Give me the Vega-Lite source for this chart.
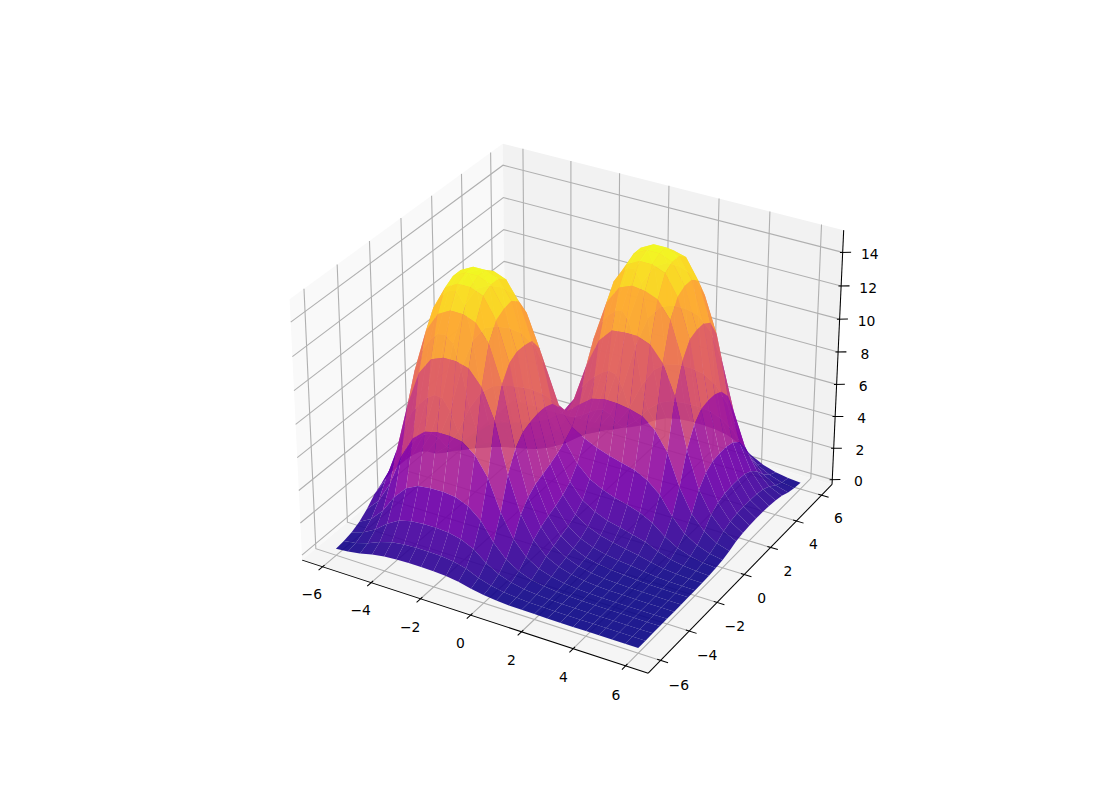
{
"$schema":"https://vega.github.io/schema/vega-lite/v6.json",
"width":1100,"height":800,"padding":0,"autosize":{"type":"none"},
"background":"white",
"config":{"view":{"stroke":null}},
"params":[{"name":"L","value":6.85},{"name":"zl","value":-0.3125},{"name":"zh","value":15.3125}],
"datasets":{
"frame":[
{"axis":"px","v":"","t":""},{"axis":"py","v":"","t":""},{"axis":"pz","v":"","t":""},
{"axis":"ax","v":"","t":""},{"axis":"ay","v":"","t":""},{"axis":"az","v":"","t":""},
{"axis":"x","v":-6,"t":"−6"},{"axis":"x","v":-4,"t":"−4"},{"axis":"x","v":-2,"t":"−2"},{"axis":"x","v":0,"t":"0"},{"axis":"x","v":2,"t":"2"},{"axis":"x","v":4,"t":"4"},{"axis":"x","v":6,"t":"6"},
{"axis":"y","v":-6,"t":"−6"},{"axis":"y","v":-4,"t":"−4"},{"axis":"y","v":-2,"t":"−2"},{"axis":"y","v":0,"t":"0"},{"axis":"y","v":2,"t":"2"},{"axis":"y","v":4,"t":"4"},{"axis":"y","v":6,"t":"6"},
{"axis":"z","v":0,"t":"0"},{"axis":"z","v":2,"t":"2"},{"axis":"z","v":4,"t":"4"},{"axis":"z","v":6,"t":"6"},{"axis":"z","v":8,"t":"8"},{"axis":"z","v":10,"t":"10"},{"axis":"z","v":12,"t":"12"},{"axis":"z","v":14,"t":"14"}
],
"surface":[
{"x":-6,"y":6,"z":0},{"x":-5.5,"y":6,"z":0},{"x":-5,"y":6,"z":0},{"x":-4.5,"y":6,"z":0},{"x":-4,"y":6,"z":0.01},{"x":-3.5,"y":6,"z":0.02},{"x":-3,"y":6,"z":0.04},{"x":-2.5,"y":6,"z":0.08},{"x":-2,"y":6,"z":0.14},{"x":-1.5,"y":6,"z":0.25},{"x":-1,"y":6,"z":0.46},{"x":-0.5,"y":6,"z":0.82},{"x":0,"y":6,"z":1.35},{"x":0.5,"y":6,"z":1.72},{"x":1,"y":6,"z":1.89},{"x":1.5,"y":6,"z":1.95},{"x":2,"y":6,"z":1.95},{"x":2.5,"y":6,"z":1.91},{"x":3,"y":6,"z":1.76},{"x":3.5,"y":6,"z":1.44},{"x":4,"y":6,"z":0.92},{"x":4.5,"y":6,"z":0.53},{"x":5,"y":6,"z":0.29},{"x":5.5,"y":6,"z":0.16},{"x":6,"y":6,"z":0.09},
{"x":-6,"y":5.5,"z":0},{"x":-5.5,"y":5.5,"z":0},{"x":-5,"y":5.5,"z":0},{"x":-4.5,"y":5.5,"z":0},{"x":-4,"y":5.5,"z":0.01},{"x":-3.5,"y":5.5,"z":0.03},{"x":-3,"y":5.5,"z":0.07},{"x":-2.5,"y":5.5,"z":0.14},{"x":-2,"y":5.5,"z":0.25},{"x":-1.5,"y":5.5,"z":0.46},{"x":-1,"y":5.5,"z":0.83},{"x":-0.5,"y":5.5,"z":1.48},{"x":0,"y":5.5,"z":2.44},{"x":0.5,"y":5.5,"z":3.11},{"x":1,"y":5.5,"z":3.42},{"x":1.5,"y":5.5,"z":3.52},{"x":2,"y":5.5,"z":3.53},{"x":2.5,"y":5.5,"z":3.46},{"x":3,"y":5.5,"z":3.18},{"x":3.5,"y":5.5,"z":2.61},{"x":4,"y":5.5,"z":1.66},{"x":4.5,"y":5.5,"z":0.95},{"x":5,"y":5.5,"z":0.53},{"x":5.5,"y":5.5,"z":0.28},{"x":6,"y":5.5,"z":0.16},
{"x":-6,"y":5,"z":0},{"x":-5.5,"y":5,"z":0},{"x":-5,"y":5,"z":0},{"x":-4.5,"y":5,"z":0.01},{"x":-4,"y":5,"z":0.02},{"x":-3.5,"y":5,"z":0.06},{"x":-3,"y":5,"z":0.13},{"x":-2.5,"y":5,"z":0.25},{"x":-2,"y":5,"z":0.44},{"x":-1.5,"y":5,"z":0.82},{"x":-1,"y":5,"z":1.48},{"x":-0.5,"y":5,"z":2.65},{"x":0,"y":5,"z":4.35},{"x":0.5,"y":5,"z":5.54},{"x":1,"y":5,"z":6.11},{"x":1.5,"y":5,"z":6.29},{"x":2,"y":5,"z":6.29},{"x":2.5,"y":5,"z":6.17},{"x":3,"y":5,"z":5.67},{"x":3.5,"y":5,"z":4.66},{"x":4,"y":5,"z":2.96},{"x":4.5,"y":5,"z":1.7},{"x":5,"y":5,"z":0.95},{"x":5.5,"y":5,"z":0.5},{"x":6,"y":5,"z":0.28},
{"x":-6,"y":4.5,"z":0},{"x":-5.5,"y":4.5,"z":0},{"x":-5,"y":4.5,"z":0.01},{"x":-4.5,"y":4.5,"z":0.02},{"x":-4,"y":4.5,"z":0.04},{"x":-3.5,"y":4.5,"z":0.11},{"x":-3,"y":4.5,"z":0.22},{"x":-2.5,"y":4.5,"z":0.43},{"x":-2,"y":4.5,"z":0.74},{"x":-1.5,"y":4.5,"z":1.36},{"x":-1,"y":4.5,"z":2.44},{"x":-0.5,"y":4.5,"z":4.35},{"x":0,"y":4.5,"z":7.14},{"x":0.5,"y":4.5,"z":9.11},{"x":1,"y":4.5,"z":10},{"x":1.5,"y":4.5,"z":10.3},{"x":2,"y":4.5,"z":10.3},{"x":2.5,"y":4.5,"z":10.1},{"x":3,"y":4.5,"z":9.32},{"x":3.5,"y":4.5,"z":7.66},{"x":4,"y":4.5,"z":4.86},{"x":4.5,"y":4.5,"z":2.79},{"x":5,"y":4.5,"z":1.55},{"x":5.5,"y":4.5,"z":0.83},{"x":6,"y":4.5,"z":0.47},
{"x":-6,"y":4,"z":0.01},{"x":-5.5,"y":4,"z":0.01},{"x":-5,"y":4,"z":0.02},{"x":-4.5,"y":4,"z":0.04},{"x":-4,"y":4,"z":0.08},{"x":-3.5,"y":4,"z":0.16},{"x":-3,"y":4,"z":0.31},{"x":-2.5,"y":4,"z":0.57},{"x":-2,"y":4,"z":0.97},{"x":-1.5,"y":4,"z":1.76},{"x":-1,"y":4,"z":3.13},{"x":-0.5,"y":4,"z":5.57},{"x":0,"y":4,"z":9.12},{"x":0.5,"y":4,"z":11.6},{"x":1,"y":4,"z":12.8},{"x":1.5,"y":4,"z":13.2},{"x":2,"y":4,"z":13.2},{"x":2.5,"y":4,"z":12.9},{"x":3,"y":4,"z":11.9},{"x":3.5,"y":4,"z":9.77},{"x":4,"y":4,"z":6.2},{"x":4.5,"y":4,"z":3.56},{"x":5,"y":4,"z":1.98},{"x":5.5,"y":4,"z":1.06},{"x":6,"y":4,"z":0.59},
{"x":-6,"y":3.5,"z":0.02},{"x":-5.5,"y":3.5,"z":0.03},{"x":-5,"y":3.5,"z":0.06},{"x":-4.5,"y":3.5,"z":0.11},{"x":-4,"y":3.5,"z":0.16},{"x":-3.5,"y":3.5,"z":0.26},{"x":-3,"y":3.5,"z":0.43},{"x":-2.5,"y":3.5,"z":0.72},{"x":-2,"y":3.5,"z":1.15},{"x":-1.5,"y":3.5,"z":2.01},{"x":-1,"y":3.5,"z":3.52},{"x":-0.5,"y":3.5,"z":6.17},{"x":0,"y":3.5,"z":10.1},{"x":0.5,"y":3.5,"z":12.8},{"x":1,"y":3.5,"z":14.1},{"x":1.5,"y":3.5,"z":14.5},{"x":2,"y":3.5,"z":14.5},{"x":2.5,"y":3.5,"z":14.3},{"x":3,"y":3.5,"z":13.1},{"x":3.5,"y":3.5,"z":10.8},{"x":4,"y":3.5,"z":6.84},{"x":4.5,"y":3.5,"z":3.93},{"x":5,"y":3.5,"z":2.18},{"x":5.5,"y":3.5,"z":1.16},{"x":6,"y":3.5,"z":0.65},
{"x":-6,"y":3,"z":0.04},{"x":-5.5,"y":3,"z":0.07},{"x":-5,"y":3,"z":0.13},{"x":-4.5,"y":3,"z":0.22},{"x":-4,"y":3,"z":0.31},{"x":-3.5,"y":3,"z":0.43},{"x":-3,"y":3,"z":0.6},{"x":-2.5,"y":3,"z":0.9},{"x":-2,"y":3,"z":1.34},{"x":-1.5,"y":3,"z":2.22},{"x":-1,"y":3,"z":3.75},{"x":-0.5,"y":3,"z":6.44},{"x":0,"y":3,"z":10.4},{"x":0.5,"y":3,"z":13.2},{"x":1,"y":3,"z":14.6},{"x":1.5,"y":3,"z":15},{"x":2,"y":3,"z":15},{"x":2.5,"y":3,"z":14.7},{"x":3,"y":3,"z":13.5},{"x":3.5,"y":3,"z":11.1},{"x":4,"y":3,"z":7.05},{"x":4.5,"y":3,"z":4.05},{"x":5,"y":3,"z":2.25},{"x":5.5,"y":3,"z":1.2},{"x":6,"y":3,"z":0.68},
{"x":-6,"y":2.5,"z":0.08},{"x":-5.5,"y":2.5,"z":0.14},{"x":-5,"y":2.5,"z":0.25},{"x":-4.5,"y":2.5,"z":0.43},{"x":-4,"y":2.5,"z":0.57},{"x":-3.5,"y":2.5,"z":0.72},{"x":-3,"y":2.5,"z":0.9},{"x":-2.5,"y":2.5,"z":1.2},{"x":-2,"y":2.5,"z":1.64},{"x":-1.5,"y":2.5,"z":2.49},{"x":-1,"y":2.5,"z":3.97},{"x":-0.5,"y":2.5,"z":6.58},{"x":0,"y":2.5,"z":10.5},{"x":0.5,"y":2.5,"z":13.3},{"x":1,"y":2.5,"z":14.6},{"x":1.5,"y":2.5,"z":15},{"x":2,"y":2.5,"z":15},{"x":2.5,"y":2.5,"z":14.7},{"x":3,"y":2.5,"z":13.5},{"x":3.5,"y":2.5,"z":11.1},{"x":4,"y":2.5,"z":7.05},{"x":4.5,"y":2.5,"z":4.05},{"x":5,"y":2.5,"z":2.25},{"x":5.5,"y":2.5,"z":1.2},{"x":6,"y":2.5,"z":0.68},
{"x":-6,"y":2,"z":0.14},{"x":-5.5,"y":2,"z":0.25},{"x":-5,"y":2,"z":0.44},{"x":-4.5,"y":2,"z":0.74},{"x":-4,"y":2,"z":0.97},{"x":-3.5,"y":2,"z":1.15},{"x":-3,"y":2,"z":1.34},{"x":-2.5,"y":2,"z":1.64},{"x":-2,"y":2,"z":2.06},{"x":-1.5,"y":2,"z":2.86},{"x":-1,"y":2,"z":4.23},{"x":-0.5,"y":2,"z":6.67},{"x":0,"y":2,"z":10.4},{"x":0.5,"y":2,"z":13.1},{"x":1,"y":2,"z":14.3},{"x":1.5,"y":2,"z":14.7},{"x":2,"y":2,"z":14.7},{"x":2.5,"y":2,"z":14.4},{"x":3,"y":2,"z":13.2},{"x":3.5,"y":2,"z":10.9},{"x":4,"y":2,"z":6.91},{"x":4.5,"y":2,"z":3.97},{"x":5,"y":2,"z":2.2},{"x":5.5,"y":2,"z":1.18},{"x":6,"y":2,"z":0.66},
{"x":-6,"y":1.5,"z":0.25},{"x":-5.5,"y":1.5,"z":0.46},{"x":-5,"y":1.5,"z":0.82},{"x":-4.5,"y":1.5,"z":1.36},{"x":-4,"y":1.5,"z":1.76},{"x":-3.5,"y":1.5,"z":2.01},{"x":-3,"y":1.5,"z":2.22},{"x":-2.5,"y":1.5,"z":2.49},{"x":-2,"y":1.5,"z":2.86},{"x":-1.5,"y":1.5,"z":3.51},{"x":-1,"y":1.5,"z":4.61},{"x":-0.5,"y":1.5,"z":6.59},{"x":0,"y":1.5,"z":9.84},{"x":0.5,"y":1.5,"z":12.2},{"x":1,"y":1.5,"z":13.3},{"x":1.5,"y":1.5,"z":13.6},{"x":2,"y":1.5,"z":13.5},{"x":2.5,"y":1.5,"z":13.2},{"x":3,"y":1.5,"z":12.2},{"x":3.5,"y":1.5,"z":10},{"x":4,"y":1.5,"z":6.35},{"x":4.5,"y":1.5,"z":3.65},{"x":5,"y":1.5,"z":2.03},{"x":5.5,"y":1.5,"z":1.08},{"x":6,"y":1.5,"z":0.61},
{"x":-6,"y":1,"z":0.46},{"x":-5.5,"y":1,"z":0.83},{"x":-5,"y":1,"z":1.48},{"x":-4.5,"y":1,"z":2.45},{"x":-4,"y":1,"z":3.14},{"x":-3.5,"y":1,"z":3.52},{"x":-3,"y":1,"z":3.74},{"x":-2.5,"y":1,"z":3.97},{"x":-2,"y":1,"z":4.24},{"x":-1.5,"y":1,"z":4.62},{"x":-1,"y":1,"z":5.22},{"x":-0.5,"y":1,"z":6.32},{"x":0,"y":1,"z":8.61},{"x":0.5,"y":1,"z":10.3},{"x":1,"y":1,"z":11.1},{"x":1.5,"y":1,"z":11.2},{"x":2,"y":1,"z":11.2},{"x":2.5,"y":1,"z":10.9},{"x":3,"y":1,"z":10},{"x":3.5,"y":1,"z":8.22},{"x":4,"y":1,"z":5.22},{"x":4.5,"y":1,"z":3},{"x":5,"y":1,"z":1.67},{"x":5.5,"y":1,"z":0.89},{"x":6,"y":1,"z":0.5},
{"x":-6,"y":0.5,"z":0.82},{"x":-5.5,"y":0.5,"z":1.48},{"x":-5,"y":0.5,"z":2.65},{"x":-4.5,"y":0.5,"z":4.35},{"x":-4,"y":0.5,"z":5.57},{"x":-3.5,"y":0.5,"z":6.17},{"x":-3,"y":0.5,"z":6.43},{"x":-2.5,"y":0.5,"z":6.58},{"x":-2,"y":0.5,"z":6.67},{"x":-1.5,"y":0.5,"z":6.59},{"x":-1,"y":0.5,"z":6.32},{"x":-0.5,"y":0.5,"z":5.92},{"x":0,"y":0.5,"z":6.57},{"x":0.5,"y":0.5,"z":7.15},{"x":1,"y":0.5,"z":7.34},{"x":1.5,"y":0.5,"z":7.32},{"x":2,"y":0.5,"z":7.19},{"x":2.5,"y":0.5,"z":6.98},{"x":3,"y":0.5,"z":6.37},{"x":3.5,"y":0.5,"z":5.23},{"x":4,"y":0.5,"z":3.32},{"x":4.5,"y":0.5,"z":1.9},{"x":5,"y":0.5,"z":1.06},{"x":5.5,"y":0.5,"z":0.56},{"x":6,"y":0.5,"z":0.32},
{"x":-6,"y":0,"z":1.35},{"x":-5.5,"y":0,"z":2.43},{"x":-5,"y":0,"z":4.35},{"x":-4.5,"y":0,"z":7.15},{"x":-4,"y":0,"z":9.12},{"x":-3.5,"y":0,"z":10.1},{"x":-3,"y":0,"z":10.4},{"x":-2.5,"y":0,"z":10.5},{"x":-2,"y":0,"z":10.4},{"x":-1.5,"y":0,"z":9.84},{"x":-1,"y":0,"z":8.61},{"x":-0.5,"y":0,"z":6.57},{"x":0,"y":0,"z":5.59},{"x":0.5,"y":0,"z":5.12},{"x":1,"y":0,"z":4.76},{"x":1.5,"y":0,"z":4.51},{"x":2,"y":0,"z":4.28},{"x":2.5,"y":0,"z":4.08},{"x":3,"y":0,"z":3.69},{"x":3.5,"y":0,"z":3.02},{"x":4,"y":0,"z":1.91},{"x":4.5,"y":0,"z":1.09},{"x":5,"y":0,"z":0.61},{"x":5.5,"y":0,"z":0.32},{"x":6,"y":0,"z":0.18},
{"x":-6,"y":-0.5,"z":1.72},{"x":-5.5,"y":-0.5,"z":3.1},{"x":-5,"y":-0.5,"z":5.54},{"x":-4.5,"y":-0.5,"z":9.11},{"x":-4,"y":-0.5,"z":11.6},{"x":-3.5,"y":-0.5,"z":12.8},{"x":-3,"y":-0.5,"z":13.2},{"x":-2.5,"y":-0.5,"z":13.3},{"x":-2,"y":-0.5,"z":13.1},{"x":-1.5,"y":-0.5,"z":12.2},{"x":-1,"y":-0.5,"z":10.3},{"x":-0.5,"y":-0.5,"z":7.15},{"x":0,"y":-0.5,"z":5.12},{"x":0.5,"y":-0.5,"z":3.96},{"x":1,"y":-0.5,"z":3.24},{"x":1.5,"y":-0.5,"z":2.84},{"x":2,"y":-0.5,"z":2.55},{"x":2.5,"y":-0.5,"z":2.35},{"x":3,"y":-0.5,"z":2.08},{"x":3.5,"y":-0.5,"z":1.69},{"x":4,"y":-0.5,"z":1.07},{"x":4.5,"y":-0.5,"z":0.61},{"x":5,"y":-0.5,"z":0.34},{"x":5.5,"y":-0.5,"z":0.18},{"x":6,"y":-0.5,"z":0.1},
{"x":-6,"y":-1,"z":1.89},{"x":-5.5,"y":-1,"z":3.42},{"x":-5,"y":-1,"z":6.11},{"x":-4.5,"y":-1,"z":10},{"x":-4,"y":-1,"z":12.8},{"x":-3.5,"y":-1,"z":14.1},{"x":-3,"y":-1,"z":14.5},{"x":-2.5,"y":-1,"z":14.6},{"x":-2,"y":-1,"z":14.3},{"x":-1.5,"y":-1,"z":13.2},{"x":-1,"y":-1,"z":11.1},{"x":-0.5,"y":-1,"z":7.34},{"x":0,"y":-1,"z":4.76},{"x":0.5,"y":-1,"z":3.24},{"x":1,"y":-1,"z":2.33},{"x":1.5,"y":-1,"z":1.85},{"x":2,"y":-1,"z":1.53},{"x":2.5,"y":-1,"z":1.34},{"x":3,"y":-1,"z":1.14},{"x":3.5,"y":-1,"z":0.92},{"x":4,"y":-1,"z":0.58},{"x":4.5,"y":-1,"z":0.32},{"x":5,"y":-1,"z":0.18},{"x":5.5,"y":-1,"z":0.1},{"x":6,"y":-1,"z":0.05},
{"x":-6,"y":-1.5,"z":1.95},{"x":-5.5,"y":-1.5,"z":3.53},{"x":-5,"y":-1.5,"z":6.3},{"x":-4.5,"y":-1.5,"z":10.4},{"x":-4,"y":-1.5,"z":13.2},{"x":-3.5,"y":-1.5,"z":14.6},{"x":-3,"y":-1.5,"z":15},{"x":-2.5,"y":-1.5,"z":15},{"x":-2,"y":-1.5,"z":14.7},{"x":-1.5,"y":-1.5,"z":13.6},{"x":-1,"y":-1.5,"z":11.2},{"x":-0.5,"y":-1.5,"z":7.33},{"x":0,"y":-1.5,"z":4.52},{"x":0.5,"y":-1.5,"z":2.84},{"x":1,"y":-1.5,"z":1.85},{"x":1.5,"y":-1.5,"z":1.35},{"x":2,"y":-1.5,"z":1.02},{"x":2.5,"y":-1.5,"z":0.83},{"x":3,"y":-1.5,"z":0.67},{"x":3.5,"y":-1.5,"z":0.53},{"x":4,"y":-1.5,"z":0.33},{"x":4.5,"y":-1.5,"z":0.18},{"x":5,"y":-1.5,"z":0.1},{"x":5.5,"y":-1.5,"z":0.05},{"x":6,"y":-1.5,"z":0.03},
{"x":-6,"y":-2,"z":1.95},{"x":-5.5,"y":-2,"z":3.53},{"x":-5,"y":-2,"z":6.3},{"x":-4.5,"y":-2,"z":10.4},{"x":-4,"y":-2,"z":13.2},{"x":-3.5,"y":-2,"z":14.6},{"x":-3,"y":-2,"z":15},{"x":-2.5,"y":-2,"z":15},{"x":-2,"y":-2,"z":14.7},{"x":-1.5,"y":-2,"z":13.5},{"x":-1,"y":-2,"z":11.2},{"x":-0.5,"y":-2,"z":7.2},{"x":0,"y":-2,"z":4.29},{"x":0.5,"y":-2,"z":2.55},{"x":1,"y":-2,"z":1.53},{"x":1.5,"y":-2,"z":1.02},{"x":2,"y":-2,"z":0.69},{"x":2.5,"y":-2,"z":0.5},{"x":3,"y":-2,"z":0.37},{"x":3.5,"y":-2,"z":0.29},{"x":4,"y":-2,"z":0.18},{"x":4.5,"y":-2,"z":0.09},{"x":5,"y":-2,"z":0.05},{"x":5.5,"y":-2,"z":0.03},{"x":6,"y":-2,"z":0.02},
{"x":-6,"y":-2.5,"z":1.91},{"x":-5.5,"y":-2.5,"z":3.45},{"x":-5,"y":-2.5,"z":6.17},{"x":-4.5,"y":-2.5,"z":10.1},{"x":-4,"y":-2.5,"z":12.9},{"x":-3.5,"y":-2.5,"z":14.3},{"x":-3,"y":-2.5,"z":14.7},{"x":-2.5,"y":-2.5,"z":14.7},{"x":-2,"y":-2.5,"z":14.4},{"x":-1.5,"y":-2.5,"z":13.2},{"x":-1,"y":-2.5,"z":10.9},{"x":-0.5,"y":-2.5,"z":6.98},{"x":0,"y":-2.5,"z":4.08},{"x":0.5,"y":-2.5,"z":2.35},{"x":1,"y":-2.5,"z":1.34},{"x":1.5,"y":-2.5,"z":0.83},{"x":2,"y":-2.5,"z":0.5},{"x":2.5,"y":-2.5,"z":0.32},{"x":3,"y":-2.5,"z":0.21},{"x":3.5,"y":-2.5,"z":0.15},{"x":4,"y":-2.5,"z":0.09},{"x":4.5,"y":-2.5,"z":0.04},{"x":5,"y":-2.5,"z":0.02},{"x":5.5,"y":-2.5,"z":0.01},{"x":6,"y":-2.5,"z":0.01},
{"x":-6,"y":-3,"z":1.76},{"x":-5.5,"y":-3,"z":3.17},{"x":-5,"y":-3,"z":5.67},{"x":-4.5,"y":-3,"z":9.32},{"x":-4,"y":-3,"z":11.9},{"x":-3.5,"y":-3,"z":13.1},{"x":-3,"y":-3,"z":13.5},{"x":-2.5,"y":-3,"z":13.5},{"x":-2,"y":-3,"z":13.2},{"x":-1.5,"y":-3,"z":12.2},{"x":-1,"y":-3,"z":10},{"x":-0.5,"y":-3,"z":6.37},{"x":0,"y":-3,"z":3.69},{"x":0.5,"y":-3,"z":2.08},{"x":1,"y":-3,"z":1.14},{"x":1.5,"y":-3,"z":0.67},{"x":2,"y":-3,"z":0.37},{"x":2.5,"y":-3,"z":0.21},{"x":3,"y":-3,"z":0.11},{"x":3.5,"y":-3,"z":0.07},{"x":4,"y":-3,"z":0.04},{"x":4.5,"y":-3,"z":0.02},{"x":5,"y":-3,"z":0.01},{"x":5.5,"y":-3,"z":0},{"x":6,"y":-3,"z":0},
{"x":-6,"y":-3.5,"z":1.44},{"x":-5.5,"y":-3.5,"z":2.61},{"x":-5,"y":-3.5,"z":4.66},{"x":-4.5,"y":-3.5,"z":7.66},{"x":-4,"y":-3.5,"z":9.77},{"x":-3.5,"y":-3.5,"z":10.8},{"x":-3,"y":-3.5,"z":11.1},{"x":-2.5,"y":-3.5,"z":11.1},{"x":-2,"y":-3.5,"z":10.9},{"x":-1.5,"y":-3.5,"z":10},{"x":-1,"y":-3.5,"z":8.22},{"x":-0.5,"y":-3.5,"z":5.23},{"x":0,"y":-3.5,"z":3.02},{"x":0.5,"y":-3.5,"z":1.69},{"x":1,"y":-3.5,"z":0.92},{"x":1.5,"y":-3.5,"z":0.53},{"x":2,"y":-3.5,"z":0.29},{"x":2.5,"y":-3.5,"z":0.15},{"x":3,"y":-3.5,"z":0.07},{"x":3.5,"y":-3.5,"z":0.04},{"x":4,"y":-3.5,"z":0.03},{"x":4.5,"y":-3.5,"z":0.01},{"x":5,"y":-3.5,"z":0},{"x":5.5,"y":-3.5,"z":0},{"x":6,"y":-3.5,"z":0},
{"x":-6,"y":-4,"z":0.92},{"x":-5.5,"y":-4,"z":1.66},{"x":-5,"y":-4,"z":2.96},{"x":-4.5,"y":-4,"z":4.86},{"x":-4,"y":-4,"z":6.2},{"x":-3.5,"y":-4,"z":6.84},{"x":-3,"y":-4,"z":7.04},{"x":-2.5,"y":-4,"z":7.04},{"x":-2,"y":-4,"z":6.91},{"x":-1.5,"y":-4,"z":6.35},{"x":-1,"y":-4,"z":5.22},{"x":-0.5,"y":-4,"z":3.32},{"x":0,"y":-4,"z":1.91},{"x":0.5,"y":-4,"z":1.07},{"x":1,"y":-4,"z":0.58},{"x":1.5,"y":-4,"z":0.33},{"x":2,"y":-4,"z":0.18},{"x":2.5,"y":-4,"z":0.09},{"x":3,"y":-4,"z":0.04},{"x":3.5,"y":-4,"z":0.02},{"x":4,"y":-4,"z":0.01},{"x":4.5,"y":-4,"z":0},{"x":5,"y":-4,"z":0},{"x":5.5,"y":-4,"z":0},{"x":6,"y":-4,"z":0},
{"x":-6,"y":-4.5,"z":0.53},{"x":-5.5,"y":-4.5,"z":0.95},{"x":-5,"y":-4.5,"z":1.7},{"x":-4.5,"y":-4.5,"z":2.79},{"x":-4,"y":-4.5,"z":3.56},{"x":-3.5,"y":-4.5,"z":3.93},{"x":-3,"y":-4.5,"z":4.04},{"x":-2.5,"y":-4.5,"z":4.05},{"x":-2,"y":-4.5,"z":3.97},{"x":-1.5,"y":-4.5,"z":3.65},{"x":-1,"y":-4.5,"z":3},{"x":-0.5,"y":-4.5,"z":1.9},{"x":0,"y":-4.5,"z":1.09},{"x":0.5,"y":-4.5,"z":0.61},{"x":1,"y":-4.5,"z":0.32},{"x":1.5,"y":-4.5,"z":0.18},{"x":2,"y":-4.5,"z":0.09},{"x":2.5,"y":-4.5,"z":0.04},{"x":3,"y":-4.5,"z":0.02},{"x":3.5,"y":-4.5,"z":0.01},{"x":4,"y":-4.5,"z":0},{"x":4.5,"y":-4.5,"z":0},{"x":5,"y":-4.5,"z":0},{"x":5.5,"y":-4.5,"z":0},{"x":6,"y":-4.5,"z":0},
{"x":-6,"y":-5,"z":0.29},{"x":-5.5,"y":-5,"z":0.53},{"x":-5,"y":-5,"z":0.95},{"x":-4.5,"y":-5,"z":1.55},{"x":-4,"y":-5,"z":1.98},{"x":-3.5,"y":-5,"z":2.18},{"x":-3,"y":-5,"z":2.25},{"x":-2.5,"y":-5,"z":2.25},{"x":-2,"y":-5,"z":2.2},{"x":-1.5,"y":-5,"z":2.03},{"x":-1,"y":-5,"z":1.67},{"x":-0.5,"y":-5,"z":1.06},{"x":0,"y":-5,"z":0.61},{"x":0.5,"y":-5,"z":0.34},{"x":1,"y":-5,"z":0.18},{"x":1.5,"y":-5,"z":0.1},{"x":2,"y":-5,"z":0.05},{"x":2.5,"y":-5,"z":0.02},{"x":3,"y":-5,"z":0.01},{"x":3.5,"y":-5,"z":0},{"x":4,"y":-5,"z":0},{"x":4.5,"y":-5,"z":0},{"x":5,"y":-5,"z":0},{"x":5.5,"y":-5,"z":0},{"x":6,"y":-5,"z":0},
{"x":-6,"y":-5.5,"z":0.16},{"x":-5.5,"y":-5.5,"z":0.28},{"x":-5,"y":-5.5,"z":0.5},{"x":-4.5,"y":-5.5,"z":0.83},{"x":-4,"y":-5.5,"z":1.06},{"x":-3.5,"y":-5.5,"z":1.16},{"x":-3,"y":-5.5,"z":1.2},{"x":-2.5,"y":-5.5,"z":1.2},{"x":-2,"y":-5.5,"z":1.18},{"x":-1.5,"y":-5.5,"z":1.08},{"x":-1,"y":-5.5,"z":0.89},{"x":-0.5,"y":-5.5,"z":0.56},{"x":0,"y":-5.5,"z":0.32},{"x":0.5,"y":-5.5,"z":0.18},{"x":1,"y":-5.5,"z":0.1},{"x":1.5,"y":-5.5,"z":0.05},{"x":2,"y":-5.5,"z":0.03},{"x":2.5,"y":-5.5,"z":0.01},{"x":3,"y":-5.5,"z":0},{"x":3.5,"y":-5.5,"z":0},{"x":4,"y":-5.5,"z":0},{"x":4.5,"y":-5.5,"z":0},{"x":5,"y":-5.5,"z":0},{"x":5.5,"y":-5.5,"z":0},{"x":6,"y":-5.5,"z":0},
{"x":-6,"y":-6,"z":0.09},{"x":-5.5,"y":-6,"z":0.16},{"x":-5,"y":-6,"z":0.28},{"x":-4.5,"y":-6,"z":0.47},{"x":-4,"y":-6,"z":0.59},{"x":-3.5,"y":-6,"z":0.65},{"x":-3,"y":-6,"z":0.67},{"x":-2.5,"y":-6,"z":0.67},{"x":-2,"y":-6,"z":0.66},{"x":-1.5,"y":-6,"z":0.61},{"x":-1,"y":-6,"z":0.5},{"x":-0.5,"y":-6,"z":0.32},{"x":0,"y":-6,"z":0.18},{"x":0.5,"y":-6,"z":0.1},{"x":1,"y":-6,"z":0.05},{"x":1.5,"y":-6,"z":0.03},{"x":2,"y":-6,"z":0.02},{"x":2.5,"y":-6,"z":0.01},{"x":3,"y":-6,"z":0},{"x":3.5,"y":-6,"z":0},{"x":4,"y":-6,"z":0},{"x":4.5,"y":-6,"z":0},{"x":5,"y":-6,"z":0},{"x":5.5,"y":-6,"z":0},{"x":6,"y":-6,"z":0}
]
},
"resolve":{"scale":{"color":"independent"}},
"layer":[
{
"data":{"name":"frame"},
"transform":[
{"calculate":"datum.axis=='x'?[[datum.v,-L,zl,'grid',0],[datum.v,L,zl,'grid',1],[datum.v,L,zh,'grid',2],[datum.v,-L+0.12,zl,'tick',0],[datum.v,-L-0.25,zl,'tick',1],[datum.v+0.2,-L-1,zl-0.8,'label',0]]:datum.axis=='y'?[[L,datum.v,zl,'grid',0],[-L,datum.v,zl,'grid',1],[-L,datum.v,zh,'grid',2],[L-0.13,datum.v,zl,'tick',0],[L+0.28,datum.v,zl,'tick',1],[L+0.7,datum.v,zl-1.2,'label',0]]:datum.axis=='z'?[[-L,-L,datum.v,'grid',0],[-L,L,datum.v,'grid',1],[L,L,datum.v,'grid',2],[L-0.08,L-0.05,datum.v,'tick',0],[L+0.25,L+0.15,datum.v,'tick',1],[L+0.85,L+0.4,datum.v-0.1,'label',0]]:datum.axis=='ax'?[[-L,-L,zl,'axis',0],[L,-L,zl,'axis',1]]:datum.axis=='ay'?[[L,-L,zl,'axis',0],[L,L,zl,'axis',1]]:datum.axis=='az'?[[L,L,zl,'axis',0],[L,L,zh,'axis',1]]:datum.axis=='px'?[[-L,-L,zl,'pane',0],[-L,L,zl,'pane',1],[-L,L,zh,'pane',2],[-L,-L,zh,'pane',3]]:datum.axis=='py'?[[-L,L,zl,'pane',0],[L,L,zl,'pane',1],[L,L,zh,'pane',2],[-L,L,zh,'pane',3]]:[[-L,-L,zl,'pane',0],[L,-L,zl,'pane',1],[L,L,zl,'pane',2],[-L,L,zl,'pane',3]]","as":"pts"},
{"flatten":["pts"],"as":["p"]},
{"calculate":"datum.p[0]","as":"X"},{"calculate":"datum.p[1]","as":"Y"},{"calculate":"datum.p[2]","as":"Z"},
{"calculate":"datum.p[3]","as":"part"},{"calculate":"datum.p[4]","as":"ord"},
{"calculate":"datum.axis+datum.v","as":"id"},
{"calculate":"10-(0.03763*datum.X-0.06518*datum.Y+0.02857*(datum.Z-7.5))","as":"d"},
{"calculate":"572+3329.7*(0.07526*datum.X+0.04345*datum.Y)/datum.d","as":"px"},
{"calculate":"395.7-3329.7*(-0.021725*datum.X+0.03763*datum.Y+0.04948*(datum.Z-7.5))/datum.d","as":"py"}
],
"encoding":{
"x":{"field":"px","type":"quantitative","scale":{"domain":[0,1100],"range":[0,1100]},"axis":null},
"y":{"field":"py","type":"quantitative","scale":{"domain":[0,800],"range":[0,800]},"axis":null}
},
"layer":[
{"transform":[{"filter":"datum.part=='pane'"}],"mark":{"type":"line","filled":true,"strokeWidth":0},
"encoding":{"detail":{"field":"id"},"order":{"field":"ord"},"color":{"field":"axis","type":"nominal","scale":{"domain":["px","py","pz"],"range":["#f9f9f9","#f2f2f2","#f5f5f5"]},"legend":null}}},
{"transform":[{"filter":"datum.part=='grid'"}],"mark":{"type":"line","color":"#b0b0b0","strokeWidth":1.1},
"encoding":{"detail":{"field":"id"},"order":{"field":"ord"}}},
{"transform":[{"filter":"datum.part=='axis'||datum.part=='tick'"}],"mark":{"type":"line","color":"#000000","strokeWidth":1.04},
"encoding":{"detail":{"field":"id"},"order":{"field":"ord"}}},
{"transform":[{"filter":"datum.part=='label'"}],"mark":{"type":"text","font":"DejaVu Sans","fontSize":13.9,"color":"#000000","align":"center","baseline":"middle"},
"encoding":{"text":{"field":"t"}}}
]
},
{
"data":{"name":"surface"},
"transform":[
{"window":[{"op":"lead","field":"z","as":"zn"}],"groupby":["x"],"sort":[{"field":"y"}]},
{"window":[{"op":"lead","field":"z","as":"ze"},{"op":"lead","field":"zn","as":"zne"}],"groupby":["y"],"sort":[{"field":"x"}]},
{"filter":"isValid(datum.zne)"},
{"calculate":"(datum.z+datum.zn+datum.ze+datum.zne)/4","as":"c"},
{"calculate":"datum.x+'_'+datum.y","as":"cell"},
{"fold":["z","ze","zne","zn"],"as":["corner","Z"]},
{"calculate":"indexof(['z','ze','zne','zn'],datum.corner)","as":"ord"},
{"calculate":"datum.x+(datum.ord==1||datum.ord==2?0.5:0)","as":"X"},
{"calculate":"datum.y+(datum.ord>=2?0.5:0)","as":"Y"},
{"calculate":"10-(0.03763*datum.X-0.06518*datum.Y+0.02857*(datum.Z-7.5))","as":"d"},
{"calculate":"572+3329.7*(0.07526*datum.X+0.04345*datum.Y)/datum.d","as":"px"},
{"calculate":"395.7-3329.7*(-0.021725*datum.X+0.03763*datum.Y+0.04948*(datum.Z-7.5))/datum.d","as":"py"}
],
"mark":{"type":"line","filled":true,"opacity":0.92,"strokeWidth":0},
"encoding":{
"x":{"field":"px","type":"quantitative","scale":{"domain":[0,1100],"range":[0,1100]},"axis":null},
"y":{"field":"py","type":"quantitative","scale":{"domain":[0,800],"range":[0,800]},"axis":null},
"detail":{"field":"cell"},
"order":{"field":"ord"},
"color":{"field":"c","type":"quantitative","scale":{"scheme":"plasma","domain":[0,15]},"legend":null}
}
}
]
}
